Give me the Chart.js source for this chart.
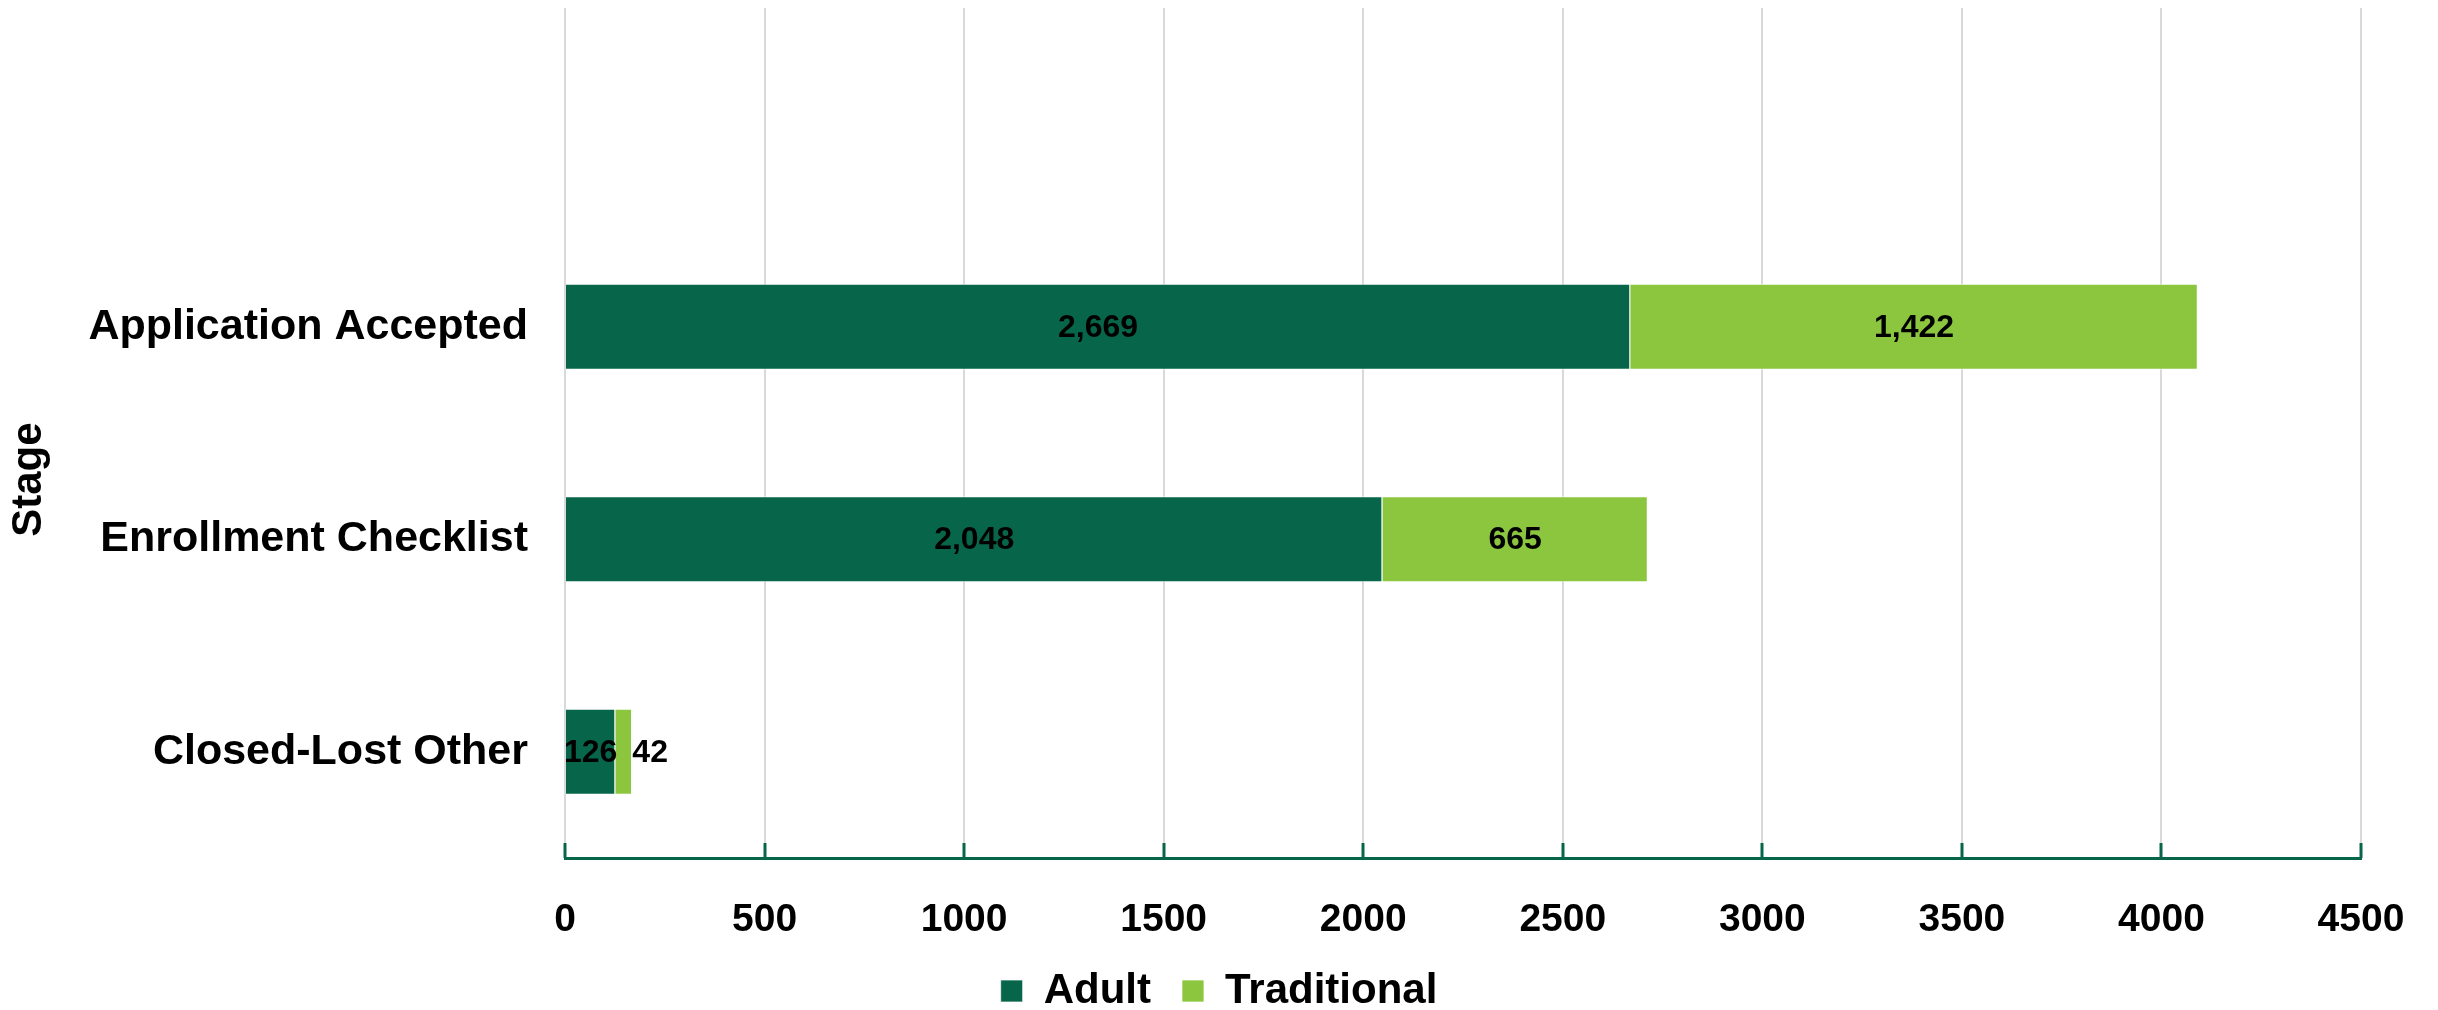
<!DOCTYPE html>
<html>
<head>
<meta charset="utf-8">
<script src="https://cdn.jsdelivr.net/npm/chart.js@4/dist/chart.umd.min.js"></script>
<style>
	html, body { margin: 0; padding: 0; background: #ffffff; }
	#wrap { width: 2438px; height: 1010px; position: relative; }
</style>
</head>
<body>
<div id="wrap"><canvas id="mycanvas"></canvas></div>
<script>
// top row is an empty stage in the source chart
var stages = ["", "Application Accepted", "Enrollment Checklist", "Closed-Lost Other"];
var adult = [null, 2669, 2048, 126];
var traditional = [null, 1422, 665, 42];
var xTicks = [0, 500, 1000, 1500, 2000, 2500, 3000, 3500, 4000, 4500];

var darkGreen = "#076649";
var lightGreen = "#8cc63f";
var fontFamily = "'Liberation Sans', Arial, sans-serif";

// value labels in the middle of each bar, pushed right if they would overlap
var barLabels = {
	id: "barLabels",
	afterDatasetsDraw: function(chart) {
		var ctx = chart.ctx;
		ctx.save();
		ctx.font = "bold 32px " + fontFamily;
		ctx.fillStyle = "#000000";
		ctx.textBaseline = "middle";
		ctx.textAlign = "left";
		var lastRight = {};
		chart.data.datasets.forEach(function(ds, di) {
			var meta = chart.getDatasetMeta(di);
			meta.data.forEach(function(bar, i) {
				var v = ds.data[i];
				if (v === null || v === undefined) return;
				var text = v.toLocaleString("en-US");
				var w = ctx.measureText(text).width;
				var left = (bar.x + bar.base) / 2 - w / 2;
				if (lastRight[i] !== undefined && left < lastRight[i] + 15) {
					left = lastRight[i] + 15;
				}
				ctx.fillText(text, left, bar.y + 1);
				lastRight[i] = left + w;
			});
		});
		ctx.restore();
	}
};

// short green tick marks rising from the value axis
var innerTicks = {
	id: "innerTicks",
	afterDraw: function(chart) {
		var ctx = chart.ctx;
		var xs = chart.scales.x;
		var yb = chart.chartArea.bottom;
		ctx.save();
		ctx.strokeStyle = darkGreen;
		ctx.lineWidth = 3;
		xTicks.forEach(function(t) {
			var px = Math.round(xs.getPixelForValue(t));
			ctx.beginPath();
			ctx.moveTo(px, yb);
			ctx.lineTo(px, yb - 15);
			ctx.stroke();
		});
		ctx.restore();
	}
};

var chartdata = {
	labels: stages,
	datasets: [
		{
			label: "Adult",
			backgroundColor: darkGreen,
			borderColor: "rgba(255, 255, 255, 0.7)",
			borderWidth: 1,
			data: adult
		},
		{
			label: "Traditional",
			backgroundColor: lightGreen,
			borderColor: "rgba(255, 255, 255, 0.7)",
			borderWidth: 1,
			data: traditional
		}
	]
};

var ctx = document.getElementById("mycanvas");

var BarGraph = new Chart(ctx, {
	type: "bar",
	data: chartdata,
	plugins: [barLabels, innerTicks],
	options: {
		indexAxis: "y",
		responsive: true,
		maintainAspectRatio: false,
		animation: false,
		devicePixelRatio: 1,
		layout: {
			padding: { top: 8, right: 0, bottom: -12, left: 0 }
		},
		datasets: {
			bar: { barPercentage: 0.405, categoryPercentage: 1 }
		},
		scales: {
			x: {
				stacked: true,
				min: 0,
				max: 4500,
				afterBuildTicks: function(scale) {
					scale.ticks = xTicks.map(function(v) { return { value: v }; });
				},
				afterFit: function(scale) {
					// keep the legend centred on the whole canvas, inset the plot instead
					scale.height = 81;
					scale.paddingLeft = 0;
					scale.paddingRight = 77;
				},
				grid: { color: "#d9d9d9", lineWidth: 2, drawTicks: false },
				border: { color: darkGreen, width: 3 },
				ticks: {
					padding: 39,
					color: "#000000",
					font: { family: fontFamily, size: 39, weight: "bold" },
					callback: function(v) { return String(v); }
				}
			},
			y: {
				stacked: true,
				afterFit: function(scale) {
					scale.width = 565;
					scale.paddingTop = 0;
					scale.paddingBottom = 0;
				},
				grid: { display: false, drawTicks: false },
				border: { display: false },
				title: {
					display: true,
					// trailing spaces nudge the rotated title down like the original
					text: "Stage        ",
					color: "#000000",
					font: { family: fontFamily, size: 42, weight: "bold" },
					padding: { top: 4, bottom: 34 }
				},
				ticks: {
					padding: 37,
					color: "#000000",
					font: { family: fontFamily, size: 43, weight: "bold" }
				}
			}
		},
		plugins: {
			legend: {
				position: "bottom",
				labels: {
					boxWidth: 22,
					boxHeight: 22,
					padding: 31,
					color: "#000000",
					font: { family: fontFamily, size: 42, weight: "bold" }
				}
			},
			tooltip: { enabled: false }
		}
	}
});
</script>
</body>
</html>
